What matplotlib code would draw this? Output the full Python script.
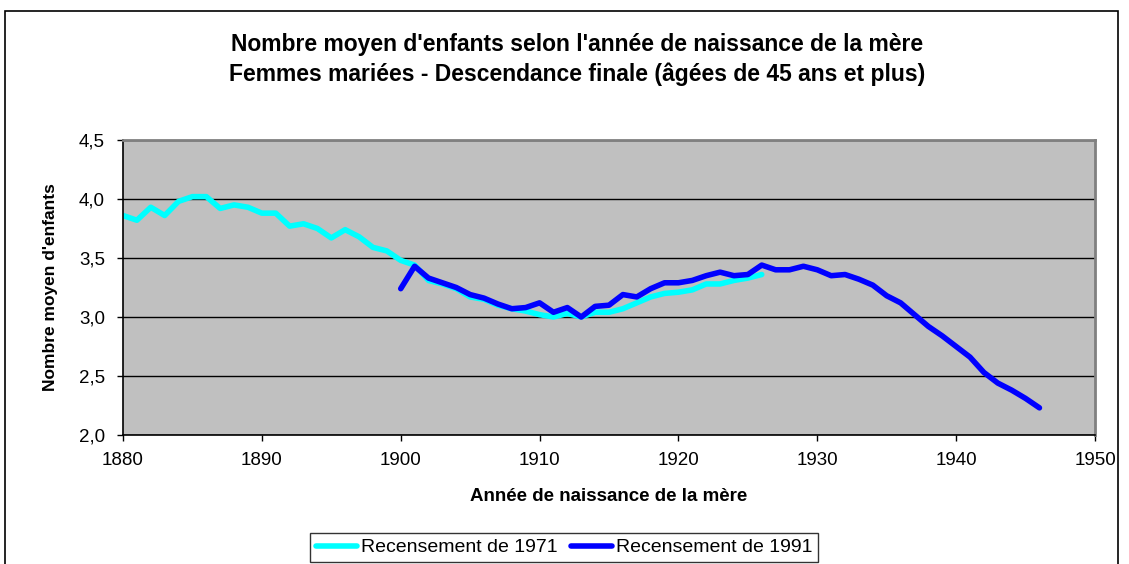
import numpy as np
import matplotlib.pyplot as plt
from matplotlib.ticker import FuncFormatter
from matplotlib.patches import Rectangle

# data
years_1971 = np.arange(1880, 1927)
rec_1971 = [3.86, 3.82, 3.93, 3.86, 3.98, 4.02, 4.02, 3.92, 3.95, 3.93,
            3.88, 3.88, 3.77, 3.79, 3.75, 3.67, 3.74, 3.68, 3.59, 3.56,
            3.48, 3.44, 3.31, 3.28, 3.24, 3.17, 3.15, 3.10, 3.07, 3.05,
            3.02, 3.00, 3.03, 3.00, 3.04, 3.04, 3.07, 3.12, 3.17, 3.20,
            3.21, 3.23, 3.28, 3.28, 3.31, 3.33, 3.36]

years_1991 = np.arange(1900, 1947)
rec_1991 = [3.24, 3.43, 3.33, 3.29, 3.25, 3.19, 3.16, 3.11, 3.07, 3.08,
            3.12, 3.04, 3.08, 3.00, 3.09, 3.10, 3.19, 3.17, 3.24, 3.29,
            3.29, 3.31, 3.35, 3.38, 3.35, 3.36, 3.44, 3.40, 3.40, 3.43,
            3.40, 3.35, 3.36, 3.32, 3.27, 3.18, 3.12, 3.02, 2.92, 2.84,
            2.75, 2.66, 2.53, 2.44, 2.38, 2.31, 2.23]

x_ticks = [1880, 1890, 1900, 1910, 1920, 1930, 1940, 1950]
y_ticks = [2.0, 2.5, 3.0, 3.5, 4.0, 4.5]

plt.rcParams['font.family'] = ['Liberation Sans', 'DejaVu Sans']

W, H = 1129, 564
fig = plt.figure(figsize=(W / 100, H / 100), dpi=100)

# outer chart frame (runs off the bottom like the original)
fig.patches.append(Rectangle((5 / W, -0.05), (1118 - 5) / W, 1.05 - 11 / H,
                             transform=fig.transFigure, fill=False,
                             edgecolor='black', linewidth=1.2))

ax = fig.add_axes([123 / W, 1 - 435 / H, (1095 - 123) / W, (435 - 140) / H])
ax.set_facecolor('#C0C0C0')

ax.plot(years_1971, rec_1971, color='#00FFFF', linewidth=4,
        solid_capstyle='round', solid_joinstyle='round', label='Recensement de 1971')
ax.plot(years_1991, rec_1991, color='#0000FF', linewidth=4,
        solid_capstyle='round', solid_joinstyle='round', label='Recensement de 1991')

ax.set_xlim(1880, 1950)
ax.set_ylim(2.0, 4.5)
ax.set_xticks(x_ticks)
ax.set_yticks(y_ticks)
ax.yaxis.set_major_formatter(FuncFormatter(lambda v, p: f"{v:.1f}".replace('.', ',')))
ax.grid(axis='y', color='black', linewidth=1)
ax.set_axisbelow(True)
ax.tick_params(axis='both', direction='out', length=4, width=1, labelsize=13.5)
ax.tick_params(axis='x', pad=8)
ax.tick_params(axis='y', pad=9)

for side in ['left', 'bottom']:
    ax.spines[side].set_color('black')
    ax.spines[side].set_linewidth(1.2)
for side in ['top', 'right']:
    ax.spines[side].set_color('#808080')
    ax.spines[side].set_linewidth(2)

ax.set_xlabel("Année de naissance de la mère", fontsize=13.5, fontweight='bold', labelpad=14)
ax.set_ylabel("Nombre moyen d'enfants", fontsize=12.5, fontweight='bold', labelpad=15)

fig.text(577 / W, 1 - 45 / H, "Nombre moyen d'enfants selon l'année de naissance de la mère",
         ha='center', va='center', fontsize=16.5, fontweight='bold')
fig.text(577 / W, 1 - 74 / H, "Femmes mariées - Descendance finale (âgées de 45 ans et plus)",
         ha='center', va='center', fontsize=16.5, fontweight='bold')

leg = fig.legend(loc='upper left', bbox_to_anchor=(310 / W, 1 - 533 / H),
                 borderaxespad=0, ncol=2, fontsize=14, frameon=True, fancybox=False,
                 edgecolor='black', handlelength=2.1, handletextpad=0.2,
                 columnspacing=0.7, borderpad=0.3)
leg.get_frame().set_linewidth(1)

fig.savefig('out.png', dpi=100)
